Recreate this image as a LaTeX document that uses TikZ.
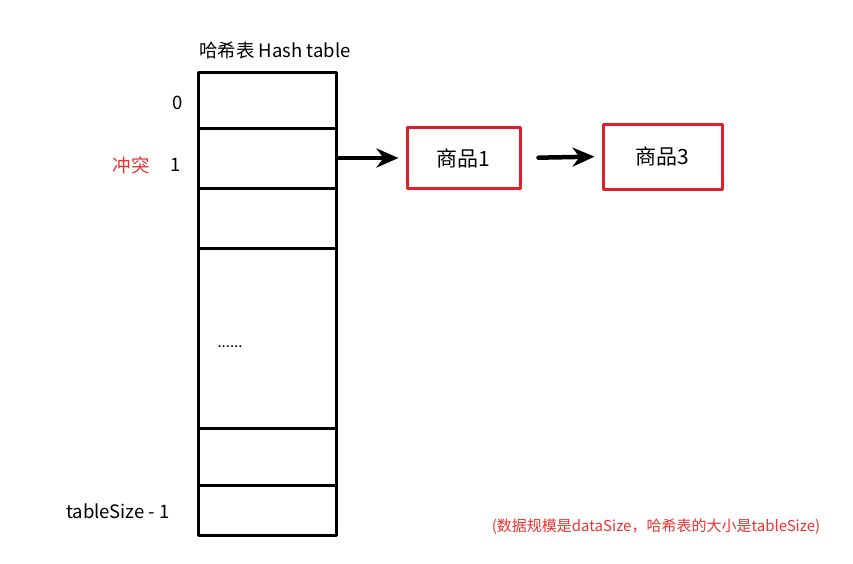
\documentclass[tikz,border=0pt]{standalone}
\usepackage{fontspec}
\setmainfont{Noto Sans CJK SC}
\usetikzlibrary{arrows.meta}
\usetikzlibrary{positioning}
\definecolor{boxred}{RGB}{228,30,40}
\definecolor{notered}{RGB}{238,50,50}

\begin{document}
\begin{tikzpicture}[x=1pt,y=-1pt,line cap=round,line join=round,>={Stealth[length=22pt,width=19pt,inset=7pt]}]
\tikzset{cell/.style={draw,line width=3pt,minimum width=138pt,inner sep=0pt,outer sep=0pt},
item/.style={draw=boxred,line width=3pt,inner sep=0pt,font=\fontsize{21}{23}\selectfont},
link/.style={->,line width=4.5pt},
lab/.style={font=\fontsize{18.5}{20}\selectfont}}
\useasboundingbox (0,0) rectangle (853,563);
% table cells
\node[cell,minimum height=56pt] (cell0) at (267,100) {};
\node[cell,minimum height=60pt,below=0pt of cell0] (cell1) {};
\node[cell,minimum height=60pt,below=0pt of cell1] (cell2) {};
\node[cell,minimum height=180pt,below=0pt of cell2] (celldots) {};
\node[cell,minimum height=57pt,below=0pt of celldots] (cellm) {};
\node[cell,minimum height=50pt,below=0pt of cellm] (celllast) {};
\node[right=16pt of celldots.west,yshift=-9pt,font=\fontsize{15}{17}\selectfont] (dots) {......};
% labels
\node[lab] (title) at (275,50) {哈希表 Hash table};
\node[lab] (idx0) at (178,103) {0};
\node[lab] (idx1) at (176,165) {1};
\node[lab,text=notered] (clash) at (131,165) {冲突};
\node[lab] (idxlast) at (118,511) {tableSize - 1};
% chain
\node[item,minimum width=113pt,minimum height=61pt] (item1) at (463.5,158) {商品1};
\node[item,minimum width=119pt,minimum height=65pt] (item3) at (662.5,156.5) {商品3};
\draw[link,shorten <=1pt,shorten >=7pt] (cell1.east) -- (item1.west);
\draw[link,shorten <=17pt,shorten >=7pt] (item1.east) -- (item3.west);
\node[font=\fontsize{15}{17}\selectfont,text=notered] (note) at (656,527) {(数据规模是dataSize，哈希表的大小是tableSize)};
\end{tikzpicture}
\end{document}
